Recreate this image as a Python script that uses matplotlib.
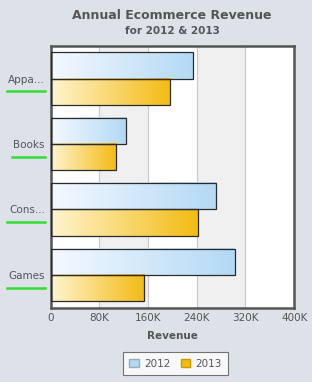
import matplotlib
matplotlib.use('Agg')
import matplotlib.pyplot as plt
import matplotlib.colors as mcolors
from matplotlib.patches import Patch
import numpy as np

categories = ['Appa...', 'Books', 'Cons...', 'Games']
rev_2012 = [234000, 124000, 271000, 302000]
rev_2013 = [196000, 107000, 242000, 153000]
xticks = [0, 80000, 160000, 240000, 320000, 400000]
xticklabels = ['0', '80K', '160K', '240K', '320K', '400K']

bg = '#dde1e8'
cmap12 = mcolors.LinearSegmentedColormap.from_list('c12', ['#f4f9ff', '#b3d9f5'])
cmap13 = mcolors.LinearSegmentedColormap.from_list('c13', ['#fff4d0', '#f4bb12'])

fig = plt.figure(figsize=(3.12, 3.82), dpi=100, facecolor=bg)
ax = fig.add_axes([0.162, 0.195, 0.781, 0.685])
ax.set_facecolor('white')

# alternating bands
for i in range(len(xticks) - 1):
    if i % 2 == 1:
        ax.axvspan(xticks[i], xticks[i + 1], color='#f0f0f0', zorder=0)
for t in xticks[1:-1]:
    ax.axvline(t, color='#c8c8c8', lw=0.8, zorder=0.5)

grad = np.linspace(0, 1, 256).reshape(1, -1)
h = 0.4
for i, cat in enumerate(categories):
    for val, cm, off in [(rev_2012[i], cmap12, -h), (rev_2013[i], cmap13, 0)]:
        y0 = i + off
        ax.imshow(grad, cmap=cm, extent=(0, val, y0 + h, y0), aspect='auto',
                  zorder=2, interpolation='bilinear')
        ax.barh(y0 + h / 2, val, height=h, facecolor='none',
                edgecolor='#2a2a2a', lw=0.9, zorder=3)

ax.set_xlim(0, 400000)
ax.set_ylim(len(categories) - 0.5, -0.5)
ax.set_xticks(xticks)
ax.set_xticklabels(xticklabels, fontsize=7.5, color='#555555')
ax.set_yticks(range(len(categories)))
ax.set_yticklabels(categories, fontsize=7.5, color='#555555')
ax.tick_params(length=0, pad=4)
for s in ax.spines.values():
    s.set_color('#555555')
    s.set_linewidth(1.8)

# green underline below each category label
fig.canvas.draw()
inv = fig.transFigure.inverted()
for lab in ax.get_yticklabels():
    bb = lab.get_window_extent()
    (x0, y0), (x1, y1) = inv.transform([(bb.x0, bb.y0), (bb.x1, bb.y1)])
    yy = y0 - 0.018
    fig.add_artist(plt.Line2D([x0 - 0.005, x1], [yy, yy], color='#33dd33',
                              lw=1.8, transform=fig.transFigure))

ax.set_xlabel('Revenue', fontsize=7.5, fontweight='bold', color='#555555',
              labelpad=6)
fig.text(0.552, 0.96, 'Annual Ecommerce Revenue', ha='center', va='center',
         fontsize=9, fontweight='bold', color='#555555')
fig.text(0.552, 0.92, 'for 2012 & 2013', ha='center', va='center',
         fontsize=7.5, fontweight='bold', color='#555555')

handles = [Patch(facecolor='#b3d9f5', edgecolor='#9ab'),
           Patch(facecolor='#f4bb12', edgecolor='#c90')]
leg = fig.legend(handles, ['2012', '2013'], loc='center',
                 bbox_to_anchor=(0.563, 0.048), ncol=2, fontsize=7.5,
                 frameon=True, fancybox=False, handlelength=0.9,
                 handleheight=0.9, handletextpad=0.5, columnspacing=1.0,
                 borderpad=0.6, borderaxespad=0)
leg.get_frame().set_edgecolor('#555555')
leg.get_frame().set_linewidth(0.8)
for t in leg.get_texts():
    t.set_color('#555555')

fig.savefig('out.png', dpi=100, facecolor=bg)
